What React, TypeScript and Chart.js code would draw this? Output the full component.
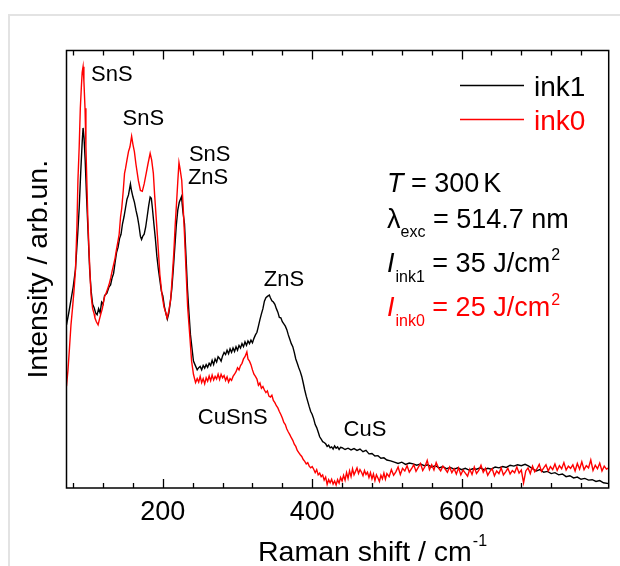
import React, { useEffect, useRef } from "react";
import { Chart, registerables } from "chart.js";

Chart.register(...registerables);

const FONT = "'Liberation Sans', Arial, sans-serif";
const BLACK = "#000000";
const RED = "#ff0000";

// Raman shift (cm^-1) and intensity (arb. units), ink1 sample
const ink1Shift = [
  71, 74, 77, 80, 83, 86, 88, 90, 92, 93.2, 94.5, 96, 98, 100, 102, 104, 106, 108, 110, 112, 114, 116, 118, 120, 122,
  125, 128, 130, 132, 134, 136, 138, 140, 142, 144, 146, 148, 150, 152, 154, 156.6, 158, 160, 162, 164, 166, 168, 170,
  171.5, 173, 175, 177, 179, 181, 183, 184.6, 186, 188, 190, 192, 194, 196, 198, 200, 202, 204, 206, 208, 210, 212, 214,
  216, 218, 220, 222, 225, 227, 229, 231, 233, 235, 237, 239, 241, 243, 246, 248, 250, 252, 254, 256, 258, 260, 262,
  264, 266, 268, 270, 272, 274, 276, 278, 280, 282, 284, 286, 288, 290, 292, 294, 296, 298, 300, 302, 304, 306, 308,
  310, 312, 314, 316, 318, 320, 322, 324, 326, 328, 330, 332, 334, 336, 338, 340, 342.6, 344, 346, 348, 350, 352, 354,
  356, 358, 360, 362, 364, 366, 368, 370, 372, 374, 376, 378, 380, 382, 384, 386, 388, 390, 392, 394, 396, 398, 400,
  402, 404, 406, 408, 410, 412, 414, 416, 418, 420, 422, 424, 426, 428, 430, 432, 434, 436, 438, 440, 444, 448, 452,
  456, 460, 464, 468, 472, 476, 480, 484, 488, 492, 496, 500, 505, 510, 515, 520, 525, 530, 535, 540, 545, 550, 555,
  560, 565, 570, 575, 580, 585, 590, 595, 600, 605, 610, 615, 620, 625, 630, 635, 640, 645, 650, 655, 660, 665, 670,
  675, 680, 685, 690, 695, 700, 705, 710, 715, 720, 725, 730, 735, 740, 745, 750, 755, 760, 765, 770, 775, 780, 785,
  790, 797,
];
const ink1Intensity = [
  37.3, 40, 43, 46, 50, 58, 64, 72, 79, 82.3, 80, 75, 66, 58, 50, 45, 42, 41.2, 40, 39.6, 41, 40, 42.5, 42, 44,
  44.5, 46, 46.4, 48, 49, 51.5, 53.8, 55, 57, 58, 60.4, 62, 64, 66, 67, 69.5, 68, 66.5, 65.3, 63.5, 62, 60, 57.5,
  56.8, 57.5, 58, 59.6, 62, 64.5, 66.5, 66.2, 64, 60.4, 57, 53, 50, 47.5, 45, 43.9, 41.5, 40, 38.6, 40, 42.5, 45.5, 50,
  55, 60, 63.5, 65.3, 66.6, 63, 60.4, 53, 45.5, 40, 35, 32, 29, 28.2, 27, 27.5, 27.8, 27, 28, 27.4, 28.2, 27.6, 28.5,
  28, 29.2, 28.2, 29.5, 28.8, 30, 29.6, 29, 30.2, 31, 30.5, 31.5, 30.7, 31.8, 31, 32, 31.2, 32.3, 31.5, 32.6, 32, 33, 32.3,
  33.4, 32.6, 33.6, 33, 33.8, 33.2, 34.2, 35, 35.6, 37, 38.5, 39.8, 41, 42.7, 43.5, 43.8, 44.1, 43.5, 42.8, 42.5, 42, 41, 40.2,
  39, 38.9, 38, 37.5, 37, 36.2, 35, 34, 33, 32.3, 31, 29.5, 28.5, 27.5, 26.6, 25.5, 24, 22.4, 21, 19.8, 18.6, 17.5, 16.8,
  15.8, 14.5, 13.8, 12.8, 11.7, 11.2, 10.6, 10.4, 10.1, 9.5, 9.8, 9.2, 9.4, 8.9, 9.6, 9.1, 9.4, 8.8, 9.3, 9.2, 8.8, 9.1, 8.7,
  9, 8.6, 8.9, 8.3, 8.6, 7.8, 7.9, 7.3, 7.4, 6.8, 6.9, 6.4, 6.2, 5.9, 5.6, 5.9, 5.4, 5.7, 5.5, 5.2, 5.5, 5.1, 5.3,
  4.8, 5.1, 4.6, 4.9, 4.4, 4.7, 4.3, 4.6, 4.2, 4.5, 4.1, 4.4, 4.3, 4.6, 4.2, 4.5, 4.3, 4.8, 4.6, 4.9, 4.7, 5.2, 5.0,
  5.3, 5.1, 5.4, 5.0, 4.4, 3.9, 4.2, 3.6, 3.8, 3.3, 3.5, 3.0, 3.2, 2.6, 2.8, 2.3, 2.5, 2.0, 2.2, 1.8, 1.9, 1.5, 1.7,
  1.2, 1.0,
];

// ink0 sample
const ink0Shift = [
  71, 73, 75, 77, 79, 81, 83, 85, 86.3, 88, 89.5, 91, 92, 93.2, 94.3, 95.8, 97, 99.5, 101, 103, 104, 106, 108, 109, 111,
  113.3, 115, 117, 119, 121, 122.3, 124, 126, 128, 130.2, 132, 134, 136, 138, 140, 141.5, 143.4, 145, 147, 148.7, 150,
  152, 154, 156, 158.2, 160, 161.9, 164, 167.2, 170, 172.5, 175, 177.7, 180, 183, 185, 187.3, 189, 191, 193, 196, 199,
  201.5, 204, 205.7, 208, 210.5, 212.5, 214.7, 216.5, 218.4, 220, 221.6, 223, 225.3, 227, 229, 231, 233.2, 236, 238.5,
  241, 243.8, 246, 248, 250, 252, 254, 256, 258, 260, 262, 264, 266, 268, 270, 272, 274, 276, 278, 280, 282, 284, 286,
  288, 290, 292, 294, 296, 298, 300, 302, 304, 306, 308, 310, 312.5, 314, 316, 318, 320, 322, 324, 326, 328, 330, 332,
  334, 336, 338, 340, 342, 344, 346, 348, 350, 352, 354, 356, 358, 360, 362, 364, 366, 368, 370, 372, 374, 376, 378,
  380, 382, 384, 386, 388, 390, 392, 394, 396, 398, 400, 402, 404, 406, 408, 410, 412, 414, 416, 418, 420, 422, 424,
  426, 428, 430, 432, 434, 436, 438, 440, 442, 444, 446, 448, 450, 452, 454, 456, 458, 460, 462, 464, 466, 468, 470,
  472, 474, 476, 478, 480, 482, 484, 486, 488, 490, 492, 494, 496, 498, 500, 503, 506, 509, 512, 515, 518, 521, 524,
  527, 530, 533, 536, 539, 542, 545, 548, 551, 554, 557, 560, 563, 566, 569, 572, 575, 578, 581, 584, 587, 590, 593,
  596, 599, 602, 605, 608, 611, 614, 617, 620, 623, 626, 629, 632, 635, 638, 641, 644, 647, 650, 653, 656, 659, 662,
  665, 668, 671, 674, 677, 680, 683, 686, 689, 692, 695, 698, 701, 704, 707, 710, 713, 716, 719, 722, 725, 728, 731,
  734, 737, 740, 743, 746, 749, 752, 755, 758, 761, 764, 767, 770, 773, 776, 779, 782, 785, 788, 791, 794, 797,
];
const ink0Intensity = [
  23.3, 27, 32, 37.3, 41, 45, 49.7, 60, 70.3, 78, 86.8, 92, 95, 96.3, 93, 86.8, 78, 62, 55, 47, 43.9, 41, 39.8, 38.9, 38,
  37.3, 38.5, 39.8, 41, 43, 43.9, 44.5, 45.5, 46.5, 48, 49.5, 51, 52.5, 54.6, 56.5, 58, 62, 64, 68, 71.9, 73,
  75, 76.9, 78, 80.4, 78.5, 76.9, 74, 70.3, 68, 67.8, 69.5, 71.9, 74, 76.5, 75, 71.9, 67, 62, 57, 48.8, 44,
  41.4, 40, 38.9, 40.5, 43.1, 48, 53.8, 60, 65.3, 70, 74.4, 73, 70.3, 65, 57.9, 50, 41.4, 35, 29,
  26, 24.1, 25, 24.2, 25.5, 24.1, 25, 23.8, 25.2, 24.4, 25.6, 24.5, 25.8, 24.7, 25.5, 24.9, 26, 24.8, 26, 25.2, 25.7, 24.6, 25.4,
  24.2, 25, 24.6, 25.5, 26, 26.6, 27.5, 27, 28, 28.5, 29.5, 30, 31.1, 29.5, 29, 28.2, 27, 26, 25.5, 24.9, 23.5, 24, 22.8,
  23.2, 22.4, 21.8, 22.2, 21, 20.8, 21.2, 20, 19.5, 18.8, 18.3, 17.5, 16.8, 16, 15, 14.5, 13.5, 12.8, 12.2, 11.5, 10.9, 10, 9.5,
  8.6, 8.1, 7.6, 7.2, 6.5, 6.1, 5.5, 5.8, 5.0, 4.6, 4.9, 4.3, 3.5, 4.2, 3.0, 3.4, 2.6, 3.0, 1.8, 2.5, 0.8, 1.9, 1.2,
  2.0, 0.9, 1.6, 0.7, 1.9, 1.1, 2.4,
  1.6, 2.9, 1.8, 3.5, 2.2, 3.9, 2.6, 4.4, 3.0, 3.8, 4.6, 3.3, 4.2, 3.6, 2.8, 4.0, 3.1, 3.6, 2.4, 3.5, 2.1, 3.2, 1.7,
  3.0, 2.3, 1.5, 2.9, 2.1, 3.4, 2.0, 3.3,
  2.6, 4.2, 2.9, 3.7, 4.8, 3.1, 4.5, 3.9, 5.1, 3.6, 4.4, 5.3, 3.8, 4.7, 5.6, 4.0, 4.9, 6.3, 4.2, 5.3, 4.1, 5.8, 4.6,
  3.9, 5.0, 4.3, 3.6, 4.8, 3.5, 4.4, 3.2, 4.6, 3.0, 4.1, 3.4, 2.7, 4.3, 3.1, 4.8, 3.3, 4.0, 5.2, 3.6, 4.5, 2.9, 3.8,
  4.4, 2.8, 3.9, 3.3, 4.6, 3.0, 3.7, 4.5, 3.2, 4.0, 3.5, 4.8, 3.4, 4.1, 1.2, 3.9, 4.6, 3.3, 5.0, 3.7, 4.4, 5.4, 3.8,
  4.6, 5.3, 3.9, 4.9, 4.2, 5.5, 4.0, 5.1, 4.4, 5.8, 4.1, 5.0, 4.5, 5.3, 3.9, 5.6, 4.3, 6.0, 4.2, 5.1, 4.6, 6.4, 4.0,
  5.2, 4.4, 5.7, 3.9, 5.0, 4.3, 4.6,
];

const seriesLabels = ["ink1", "ink0"];
const xRange = [71, 797];
const yRange = [0, 100];
const xTickValues = [80, 120, 160, 200, 240, 280, 320, 360, 400, 440, 480, 520, 560, 600, 640, 680, 720, 760];
const xTickLabels = [200, 400, 600];

// peak annotations, anchored in data space (shift, intensity)
const peakLabels = ["SnS", "SnS", "SnS", "ZnS", "ZnS", "CuSnS", "CuS"];
const peakShift = [103.9, 146, 234.9, 233.6, 335.2, 246.9, 442];
const peakIntensity = [94.4, 84.3, 76.2, 70.9, 47.5, 16, 13.3];

type Seg = { text: string; size: number; italic?: boolean; dy?: number; gap?: number };

function drawSegs(ctx: CanvasRenderingContext2D, x: number, baseline: number, segs: Seg[], color: string) {
  let cx = x;
  ctx.fillStyle = color;
  ctx.textAlign = "left";
  ctx.textBaseline = "alphabetic";
  for (const s of segs) {
    ctx.font = `${s.italic ? "italic " : ""}${s.size}px ${FONT}`;
    ctx.fillText(s.text, cx, baseline + (s.dy || 0));
    cx += ctx.measureText(s.text).width + (s.gap || 0);
  }
}

const overlayPlugin = {
  id: "overlay",
  afterDatasetsDraw(chart: any) {
    const ctx: CanvasRenderingContext2D = chart.ctx;
    const { left, right, top, bottom } = chart.chartArea;
    const xs = chart.scales.x;
    const ys = chart.scales.y;
    ctx.save();
    // frame
    ctx.strokeStyle = "#000";
    ctx.lineWidth = 1.5;
    ctx.strokeRect(left, top, right - left, bottom - top);
    // ticks (inward, bottom and top)
    ctx.lineWidth = 1.3;
    for (const v of xTickValues) {
      const px = Math.round(xs.getPixelForValue(v)) + 0.5;
      const len = xTickLabels.includes(v) ? 9 : 5;
      ctx.beginPath();
      ctx.moveTo(px, bottom);
      ctx.lineTo(px, bottom - len);
      ctx.moveTo(px, top);
      ctx.lineTo(px, top + len);
      ctx.stroke();
    }
    // tick labels
    ctx.fillStyle = "#000";
    ctx.font = `27px ${FONT}`;
    ctx.textAlign = "center";
    ctx.textBaseline = "alphabetic";
    for (const v of xTickLabels) {
      ctx.fillText(String(v), xs.getPixelForValue(v), 520);
    }
    // x title
    drawSegs(ctx, 258, 560.5, [
      { text: "Raman shift / cm", size: 28.5, gap: 1 },
      { text: "-1", size: 16, dy: -15 },
    ], "#000");
    // y title
    ctx.save();
    ctx.translate(39.5, (top + bottom) / 2);
    ctx.rotate(-Math.PI / 2);
    ctx.font = `28.5px ${FONT}`;
    ctx.textAlign = "center";
    ctx.textBaseline = "middle";
    ctx.fillStyle = "#000";
    ctx.fillText("Intensity / arb.un.", 0, 0);
    ctx.restore();
    // legend
    const ds = chart.data.datasets;
    const legendY = [85, 119];
    const legendBase = [95.5, 130];
    ds.forEach((d: any, i: number) => {
      ctx.strokeStyle = d.borderColor;
      ctx.lineWidth = 1.5;
      ctx.beginPath();
      ctx.moveTo(460, legendY[i] + 0.5);
      ctx.lineTo(524, legendY[i] + 0.5);
      ctx.stroke();
      ctx.fillStyle = d.borderColor;
      ctx.font = `28px ${FONT}`;
      ctx.textAlign = "left";
      ctx.textBaseline = "alphabetic";
      ctx.fillText(d.label, 534, legendBase[i]);
    });
    // peak labels
    ctx.fillStyle = "#000";
    ctx.font = `22px ${FONT}`;
    ctx.textAlign = "left";
    ctx.textBaseline = "middle";
    peakLabels.forEach((t, i) => {
      ctx.fillText(t, xs.getPixelForValue(peakShift[i]), ys.getPixelForValue(peakIntensity[i]));
    });
    // info block
    drawSegs(ctx, 387, 191.5, [
      { text: "T", size: 27, italic: true },
      { text: " = 300", size: 27, gap: 4 },
      { text: "K", size: 27 },
    ], "#000");
    drawSegs(ctx, 387, 227.5, [
      { text: "λ", size: 27, gap: 0 },
      { text: "exc", size: 16, dy: 9 },
      { text: " = 514.7 nm", size: 27 },
    ], "#000");
    drawSegs(ctx, 387, 271.5, [
      { text: "I", size: 27, italic: true, gap: 1 },
      { text: "ink1", size: 16, dy: 10 },
      { text: " = 35 J/cm", size: 27, gap: 1 },
      { text: "2", size: 16, dy: -11.5 },
    ], "#000");
    drawSegs(ctx, 387, 316, [
      { text: "I", size: 27, italic: true, gap: 1 },
      { text: "ink0", size: 16, dy: 10 },
      { text: " = 25 J/cm", size: 27, gap: 1 },
      { text: "2", size: 16, dy: -11.5 },
    ], RED);
    ctx.restore();
  },
};

export default function App() {
  const canvasRef = useRef<HTMLCanvasElement | null>(null);

  useEffect(() => {
    if (!canvasRef.current) return;
    const mk = (xs: number[], ys: number[]) => xs.map((x, i) => ({ x, y: ys[i] }));
    const chart = new Chart(canvasRef.current, {
      type: "line",
      data: {
        datasets: [
          {
            label: seriesLabels[0],
            data: mk(ink1Shift, ink1Intensity),
            borderColor: BLACK,
            borderWidth: 1.4,
            pointRadius: 0,
            tension: 0,
            order: 2,
          },
          {
            label: seriesLabels[1],
            data: mk(ink0Shift, ink0Intensity),
            borderColor: RED,
            borderWidth: 1.4,
            pointRadius: 0,
            tension: 0,
            order: 1,
          },
        ],
      },
      options: {
        animation: false,
        responsive: false,
        devicePixelRatio: 1,
        layout: { padding: { left: 66.5, top: 50.5, right: 11.3, bottom: 78 } },
        plugins: { legend: { display: false }, tooltip: { enabled: false }, title: { display: false } },
        scales: {
          x: { type: "linear", min: xRange[0], max: xRange[1], display: false },
          y: { type: "linear", min: yRange[0], max: yRange[1], display: false },
        },
      },
      plugins: [overlayPlugin],
    });
    return () => chart.destroy();
  }, []);

  return (
    <div style={{ position: "absolute", left: 0, top: 0, width: 620, height: 566, overflow: "hidden", background: "#fff" }}>
      <div
        style={{
          position: "absolute",
          left: 8,
          top: 14,
          width: 700,
          height: 700,
          borderLeft: "2px solid #e3e3e3",
          borderTop: "2px solid #e3e3e3",
        }}
      />
      <canvas ref={canvasRef} width={620} height={566} style={{ position: "absolute", left: 0, top: 0 }} />
    </div>
  );
}
